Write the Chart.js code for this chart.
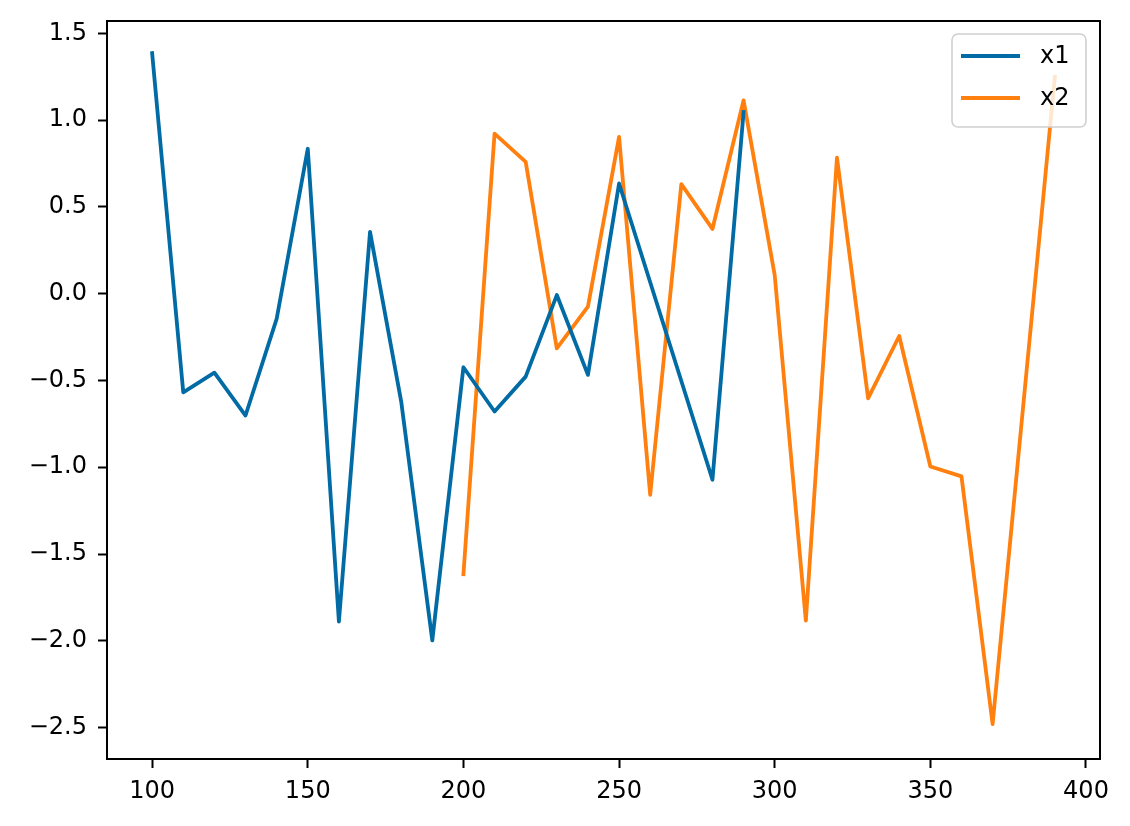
<!DOCTYPE html>
<html>
<head>
<meta charset="utf-8">
<script src="https://cdn.jsdelivr.net/npm/chart.js@4/dist/chart.umd.min.js"></script>
<style>
  html, body { margin: 0; padding: 0; background: #fff; }
  #wrap { width: 1130px; height: 826px; position: relative; }
</style>
</head>
<body>
<div id="wrap"><canvas id="lineChart"></canvas></div>
<script>
// Series data (x positions and values)
const x1Pos = [100, 110, 120, 130, 140, 150, 160, 170, 180, 190, 200, 210, 220, 230, 240, 250, 260, 270, 280, 290];
const x1Val = [1.386, -0.569, -0.455, -0.702, -0.145, 0.835, -1.889, 0.356, -0.62, -1.998, -0.424, -0.679, -0.478, -0.008, -0.468, 0.635, 0.066, -0.503, -1.072, 1.047];
const x2Pos = [200, 210, 220, 230, 240, 250, 260, 270, 280, 290, 300, 310, 320, 330, 340, 350, 360, 370, 380, 390];
const x2Val = [-1.617, 0.922, 0.759, -0.315, -0.075, 0.903, -1.159, 0.631, 0.373, 1.114, 0.107, -1.884, 0.784, -0.603, -0.244, -0.996, -1.053, -2.48, -0.615, 1.25];

// Tick labels
const xTicks = [100, 150, 200, 250, 300, 350, 400];
const yTicks = [-2.5, -2.0, -1.5, -1.0, -0.5, 0.0, 0.5, 1.0, 1.5];

const seriesNames = ['x1', 'x2'];
const seriesColors = ['#006BA4', '#FF800E'];

const FONT = { family: 'DejaVu Sans', size: 24 };

function toPoints(xs, ys) {
    return xs.map((x, i) => ({ x: x, y: ys[i] }));
}

// Spines + matplotlib style legend drawn over the lines
const frameAndLegend = {
    id: 'frameAndLegend',
    afterDatasetsDraw(chart) {
        const { ctx, chartArea: a } = chart;
        ctx.save();
        ctx.strokeStyle = '#000';
        ctx.lineWidth = 2;
        ctx.strokeRect(a.left, a.top, a.right - a.left, a.bottom - a.top);

        // legend box
        const bx = 952, by = 34, bw = 134, bh = 93, r = 6;
        ctx.beginPath();
        ctx.roundRect(bx, by, bw, bh, r);
        ctx.fillStyle = 'rgba(255,255,255,0.8)';
        ctx.fill();
        ctx.strokeStyle = '#d0d0d0';
        ctx.lineWidth = 1.6;
        ctx.stroke();

        const rows = [56, 98];
        ctx.font = '24px "DejaVu Sans"';
        ctx.textBaseline = 'middle';
        ctx.textAlign = 'left';
        rows.forEach((yy, i) => {
            ctx.strokeStyle = seriesColors[i];
            ctx.lineWidth = 3.8;
            ctx.beginPath();
            ctx.moveTo(961, yy);
            ctx.lineTo(1020, yy);
            ctx.stroke();
            ctx.fillStyle = '#000';
            ctx.fillText(seriesNames[i], 1040, yy + 1);
        });
        ctx.restore();
    }
};

const ctx = document.getElementById('lineChart').getContext('2d');
const lineChart = new Chart(ctx, {
    type: 'line',
    data: {
        datasets: [
            { label: seriesNames[0], data: toPoints(x1Pos, x1Val), borderColor: seriesColors[0] },
            { label: seriesNames[1], data: toPoints(x2Pos, x2Val), borderColor: seriesColors[1] }
        ]
    },
    options: {
        responsive: true,
        maintainAspectRatio: false,
        animation: false,
        layout: { padding: { top: 21, right: 30, left: 0, bottom: 0 } },
        elements: {
            line: { borderWidth: 3.8, tension: 0, fill: false, borderJoinStyle: 'round', borderCapStyle: 'square' },
            point: { radius: 0, hoverRadius: 0 }
        },
        plugins: {
            legend: { display: false },
            tooltip: { enabled: false }
        },
        scales: {
            x: {
                type: 'linear',
                min: 85.5,
                max: 404.5,
                afterFit: (s) => { s.height = 67; s.paddingLeft = 0; s.paddingRight = 0; },
                afterBuildTicks: (s) => { s.ticks = xTicks.map(v => ({ value: v })); },
                grid: { drawOnChartArea: false, tickLength: 9, tickWidth: 2, tickColor: '#000' },
                border: { display: false },
                ticks: { color: '#000', font: FONT, padding: 9, maxRotation: 0, autoSkip: false,
                         callback: (v) => String(v) }
            },
            y: {
                type: 'linear',
                min: -2.681,
                max: 1.571,
                afterFit: (s) => { s.width = 107; s.paddingTop = 0; s.paddingBottom = 0; },
                afterBuildTicks: (s) => { s.ticks = yTicks.map(v => ({ value: v })); },
                grid: { drawOnChartArea: false, tickLength: 9, tickWidth: 2, tickColor: '#000' },
                border: { display: false },
                ticks: { color: '#000', font: FONT, padding: 11, autoSkip: false,
                         callback: (v) => v.toFixed(1).replace('-', '\u2212') }
            }
        }
    },
    plugins: [frameAndLegend]
});
</script>
</body>
</html>
